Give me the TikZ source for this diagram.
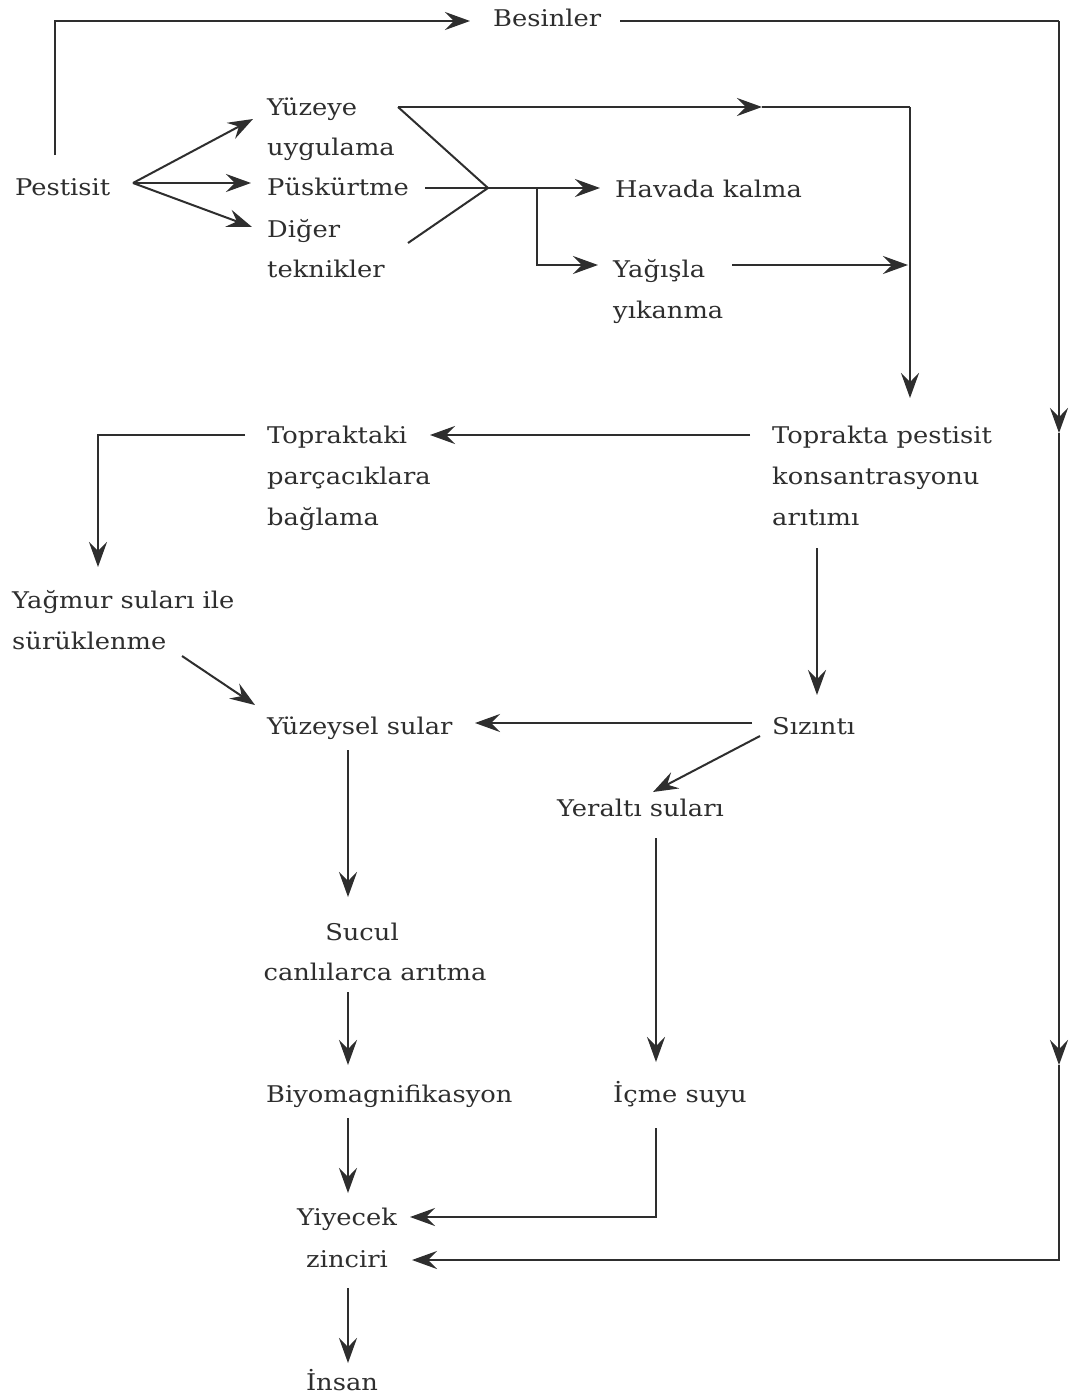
\documentclass[tikz,border=0pt]{standalone}
\usepackage{fontspec}
\setmainfont[FakeStretch=1.12]{DejaVu Serif}
\usetikzlibrary{arrows.meta,calc}
\definecolor{ink}{HTML}{2E2E2E}
\begin{document}
\begin{tikzpicture}[x=1pt,y=-1pt,
  lbl/.style={inner sep=0pt, anchor=base west, text=ink, font=\fontsize{23}{27}\selectfont},
  clbl/.style={lbl, anchor=base},
  ln/.style={draw=ink, line width=2pt},
  arr/.style={ln, -{Stealth[length=25pt,width=18pt,inset=9pt]}}]
\useasboundingbox[fill=white] (0,0) rectangle (1069,1400);

% nodes
\node[lbl] (besin) at (493,27) {Besinler};
\node[lbl] (pest) at (15,195) {Pestisit};
\node[lbl] (yuz1) at (267,115) {Yüzeye};
\node[lbl] (yuz2) at (267,155) {uygulama};
\node[lbl] (pus) at (267,195) {Püskürtme};
\node[lbl] (dig1) at (267,237) {Diğer};
\node[lbl] (dig2) at (267,277) {teknikler};
\node[lbl] (hav) at (615,197) {Havada kalma};
\node[lbl] (yag1) at (613,277) {Yağışla};
\node[lbl] (yag2) at (613,318) {yıkanma};
\node[lbl] (topk1) at (267,443) {Topraktaki};
\node[lbl] (topk2) at (267,484) {parçacıklara};
\node[lbl] (topk3) at (267,525) {bağlama};
\node[lbl] (topp1) at (772,443) {Toprakta pestisit};
\node[lbl] (topp2) at (772,484) {konsantrasyonu};
\node[lbl] (topp3) at (772,525) {arıtımı};
\node[lbl] (yagm1) at (12,608) {Yağmur suları ile};
\node[lbl] (yagm2) at (12,649) {sürüklenme};
\node[lbl] (yuzs) at (267,734) {Yüzeysel sular};
\node[lbl] (siz) at (772,734) {Sızıntı};
\node[lbl] (yer) at (557,816) {Yeraltı suları};
\node[clbl] (suc1) at (362,940) {Sucul};
\node[clbl] (suc2) at (375,980) {canlılarca arıtma};
\node[lbl] (biyo) at (266,1102) {Biyomagnifikasyon};
\node[lbl] (icme) at (613,1102) {İçme suyu};
\node[clbl] (yiy1) at (347,1225) {Yiyecek};
\node[clbl] (yiy2) at (347,1267) {zinciri};
\node[clbl] (insan) at (342,1390) {İnsan};

% junctions
\coordinate (j1) at ($(pus.base west)+(221,-7)$);
\coordinate (j2) at ($(pus.base west)+(270,-7)$);

% Pestisit -> Besinler
\draw[arr] ($(pest.base west)+(40,-40)$) |- ($(besin.base west)+(-23,-6)$);
% Besinler -> zinciri (right loop)
\coordinate (r1) at ($(besin.base west)+(566,-6)$);
\coordinate (r2) at ($(r1)+(0,412)$);
\coordinate (r3) at ($(r1)+(0,1044)$);
\draw[ln] ($(besin.base west)+(127,-6)$) -- (r1);
\draw[arr] (r1) -- (r2);
\draw[arr] (r2) -- (r3);
\draw[arr] (r3) |- ($(yiy2.base)+(65,-7)$);

% Pestisit fan
\coordinate (pf) at ($(pest.base west)+(118,-12)$);
\draw[arr] (pf) -- ($(yuz1.base west)+(-14,4)$);
\draw[arr] (pf) -- ($(pus.base west)+(-16,-12)$);
\draw[arr] (pf) -- ($(dig1.base west)+(-15,-10)$);

% Yuzeye uygulama line
\coordinate (ys) at ($(yuz1.base west)+(131,-8)$);
\coordinate (ym) at ($(yuz1.base west)+(495,-8)$);
\coordinate (yc) at ($(yuz1.base west)+(643,-8)$);
\draw[arr] (ys) -- (ym);
\draw[ln] (ym) -- (yc);
\draw[arr] (yc) -- ($(topp1.base west)+(138,-45)$);
\draw[ln] (ys) -- (j1);
\draw[ln] ($(dig1.base west)+(141,6)$) -- (j1);

% Puskurtme line
\draw[ln] ($(pus.base west)+(158,-7)$) -- (j1);
\draw[arr] (j1) -- ($(hav.base west)+(-15,-9)$);
\draw[arr] (j2) |- ($(yag1.base west)+(-15,-12)$);
% Yagisla -> right
\draw[arr] ($(yag1.base west)+(119,-12)$) -- ($(yag1.base west)+(295,-12)$);

% Toprakta -> Topraktaki
\draw[arr] ($(topp1.base west)+(-22,-8)$) -- ($(topk1.base west)+(163,-8)$);
% Topraktaki -> Yagmur
\draw[arr] ($(topk1.base west)+(-22,-8)$) -| ($(yagm1.base west)+(86,-41)$);
% Yagmur -> Yuzeysel
\draw[arr] ($(yagm2.base west)+(170,7)$) -- ($(yuzs.base west)+(-12,-29)$);
% Toprakta -> Sizinti
\draw[arr] ($(topp3.base west)+(45,23)$) -- ($(siz.base west)+(45,-39)$);
% Sizinti -> Yuzeysel
\draw[arr] ($(siz.base west)+(-20,-11)$) -- ($(yuzs.base west)+(208,-11)$);
% Sizinti -> Yeralti
\draw[arr] ($(siz.base west)+(-12,2)$) -- ($(yer.base west)+(96,-24)$);
% Yuzeysel -> Sucul
\draw[arr] ($(yuzs.base west)+(81,16)$) -- ($(suc1.base)+(-14,-43)$);
% Yeralti -> Icme
\draw[arr] ($(yer.base west)+(99,22)$) -- ($(icme.base west)+(43,-40)$);
% Sucul -> Biyo
\draw[arr] ($(suc2.base)+(-27,12)$) -- ($(biyo.base west)+(82,-37)$);
% Biyo -> Yiyecek
\draw[arr] ($(biyo.base west)+(82,16)$) -- ($(yiy1.base)+(1,-32)$);
% Icme -> Yiyecek
\draw[arr] ($(icme.base west)+(43,26)$) |- ($(yiy1.base)+(63,-8)$);
% Yiyecek -> Insan
\draw[arr] ($(yiy2.base)+(1,21)$) -- ($(insan.base)+(6,-27)$);
\end{tikzpicture}
\end{document}
